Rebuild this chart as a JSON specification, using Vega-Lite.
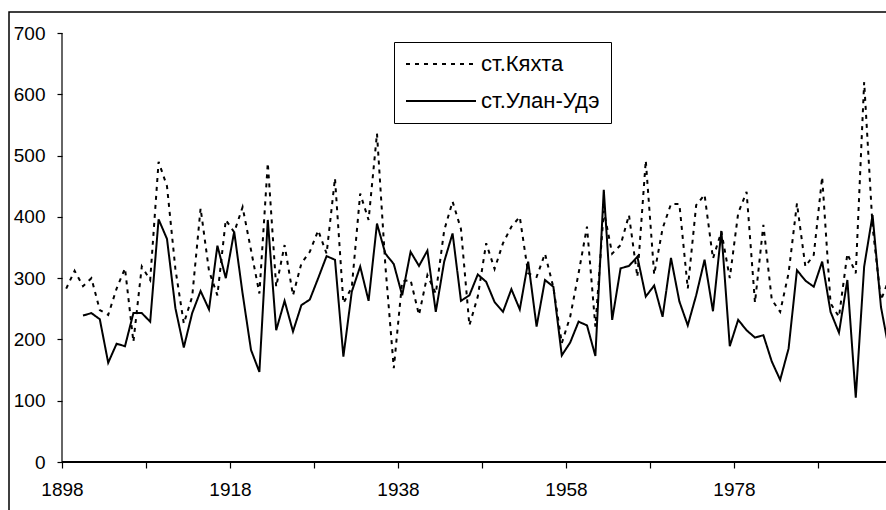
{
  "$schema": "https://vega.github.io/schema/vega-lite/v6.json",
  "autosize": {"type": "none"},
  "padding": {"left": 9, "top": 12, "right": 0, "bottom": 0},
  "width": 887,
  "height": 508,
  "background": "white",
  "config": {"view": {"stroke": "black", "strokeWidth": 1.5}, "font": "Liberation Sans"},
  "layer": [
    {
      "data": {"values": [{"a": 1}]},
      "mark": {"type": "rule", "color": "black", "strokeWidth": 1.2},
      "encoding": {
        "x": {"datum": 1897.5, "type": "quantitative"},
        "y": {"datum": 0, "type": "quantitative"},
        "y2": {"datum": 700}
      }
    },
    {
      "data": {"values": [{"a": 1}]},
      "mark": {"type": "rule", "color": "black", "strokeWidth": 2},
      "encoding": {
        "x": {"datum": 1897.5, "type": "quantitative"},
        "x2": {"datum": 1996.79},
        "y": {"datum": 0, "type": "quantitative"}
      }
    },
    {
      "data": {"values": [
        {"year":1898,"Кяхта":283,"Улан-Удэ":null},
        {"year":1899,"Кяхта":312,"Улан-Удэ":null},
        {"year":1900,"Кяхта":287,"Улан-Удэ":239},
        {"year":1901,"Кяхта":300,"Улан-Удэ":243},
        {"year":1902,"Кяхта":248,"Улан-Удэ":233},
        {"year":1903,"Кяхта":240,"Улан-Удэ":162},
        {"year":1904,"Кяхта":283,"Улан-Удэ":193},
        {"year":1905,"Кяхта":316,"Улан-Удэ":189},
        {"year":1906,"Кяхта":196,"Улан-Удэ":243},
        {"year":1907,"Кяхта":319,"Улан-Удэ":243},
        {"year":1908,"Кяхта":297,"Улан-Удэ":229},
        {"year":1909,"Кяхта":490,"Улан-Удэ":396},
        {"year":1910,"Кяхта":450,"Улан-Удэ":364},
        {"year":1911,"Кяхта":315,"Улан-Удэ":251},
        {"year":1912,"Кяхта":226,"Улан-Удэ":187},
        {"year":1913,"Кяхта":270,"Улан-Удэ":243},
        {"year":1914,"Кяхта":414,"Улан-Удэ":279},
        {"year":1915,"Кяхта":312,"Улан-Удэ":249},
        {"year":1916,"Кяхта":272,"Улан-Удэ":353},
        {"year":1917,"Кяхта":395,"Улан-Удэ":300},
        {"year":1918,"Кяхта":375,"Улан-Удэ":376},
        {"year":1919,"Кяхта":416,"Улан-Удэ":275},
        {"year":1920,"Кяхта":346,"Улан-Удэ":183},
        {"year":1921,"Кяхта":275,"Улан-Удэ":147},
        {"year":1922,"Кяхта":488,"Улан-Удэ":395},
        {"year":1923,"Кяхта":286,"Улан-Удэ":215},
        {"year":1924,"Кяхта":354,"Улан-Удэ":263},
        {"year":1925,"Кяхта":272,"Улан-Удэ":213},
        {"year":1926,"Кяхта":324,"Улан-Удэ":256},
        {"year":1927,"Кяхта":343,"Улан-Удэ":265},
        {"year":1928,"Кяхта":378,"Улан-Удэ":300},
        {"year":1929,"Кяхта":340,"Улан-Удэ":336},
        {"year":1930,"Кяхта":463,"Улан-Удэ":330},
        {"year":1931,"Кяхта":259,"Улан-Удэ":172},
        {"year":1932,"Кяхта":285,"Улан-Удэ":278},
        {"year":1933,"Кяхта":438,"Улан-Удэ":319},
        {"year":1934,"Кяхта":395,"Улан-Удэ":263},
        {"year":1935,"Кяхта":536,"Улан-Удэ":389},
        {"year":1936,"Кяхта":320,"Улан-Удэ":340},
        {"year":1937,"Кяхта":153,"Улан-Удэ":323},
        {"year":1938,"Кяхта":295,"Улан-Удэ":272},
        {"year":1939,"Кяхта":297,"Улан-Удэ":343},
        {"year":1940,"Кяхта":240,"Улан-Удэ":320},
        {"year":1941,"Кяхта":305,"Улан-Удэ":345},
        {"year":1942,"Кяхта":275,"Улан-Удэ":245},
        {"year":1943,"Кяхта":378,"Улан-Удэ":327},
        {"year":1944,"Кяхта":425,"Улан-Удэ":373},
        {"year":1945,"Кяхта":380,"Улан-Удэ":263},
        {"year":1946,"Кяхта":223,"Улан-Удэ":272},
        {"year":1947,"Кяхта":270,"Улан-Удэ":306},
        {"year":1948,"Кяхта":357,"Улан-Удэ":294},
        {"year":1949,"Кяхта":315,"Улан-Удэ":261},
        {"year":1950,"Кяхта":357,"Улан-Удэ":245},
        {"year":1951,"Кяхта":384,"Улан-Удэ":282},
        {"year":1952,"Кяхта":400,"Улан-Удэ":249},
        {"year":1953,"Кяхта":308,"Улан-Удэ":327},
        {"year":1954,"Кяхта":302,"Улан-Удэ":221},
        {"year":1955,"Кяхта":340,"Улан-Удэ":297},
        {"year":1956,"Кяхта":285,"Улан-Удэ":286},
        {"year":1957,"Кяхта":194,"Улан-Удэ":174},
        {"year":1958,"Кяхта":237,"Улан-Удэ":195},
        {"year":1959,"Кяхта":308,"Улан-Удэ":229},
        {"year":1960,"Кяхта":384,"Улан-Удэ":223},
        {"year":1961,"Кяхта":221,"Улан-Удэ":173},
        {"year":1962,"Кяхта":410,"Улан-Удэ":444},
        {"year":1963,"Кяхта":340,"Улан-Удэ":232},
        {"year":1964,"Кяхта":354,"Улан-Удэ":316},
        {"year":1965,"Кяхта":403,"Улан-Удэ":320},
        {"year":1966,"Кяхта":302,"Улан-Удэ":335},
        {"year":1967,"Кяхта":492,"Улан-Удэ":270},
        {"year":1968,"Кяхта":306,"Улан-Удэ":288},
        {"year":1969,"Кяхта":381,"Улан-Удэ":237},
        {"year":1970,"Кяхта":421,"Улан-Удэ":333},
        {"year":1971,"Кяхта":421,"Улан-Удэ":262},
        {"year":1972,"Кяхта":283,"Улан-Удэ":223},
        {"year":1973,"Кяхта":419,"Улан-Удэ":272},
        {"year":1974,"Кяхта":436,"Улан-Удэ":330},
        {"year":1975,"Кяхта":332,"Улан-Удэ":246},
        {"year":1976,"Кяхта":376,"Улан-Удэ":377},
        {"year":1977,"Кяхта":300,"Улан-Удэ":189},
        {"year":1978,"Кяхта":406,"Улан-Удэ":232},
        {"year":1979,"Кяхта":441,"Улан-Удэ":215},
        {"year":1980,"Кяхта":260,"Улан-Удэ":203},
        {"year":1981,"Кяхта":387,"Улан-Удэ":207},
        {"year":1982,"Кяхта":265,"Улан-Удэ":164},
        {"year":1983,"Кяхта":245,"Улан-Удэ":134},
        {"year":1984,"Кяхта":308,"Улан-Удэ":185},
        {"year":1985,"Кяхта":422,"Улан-Удэ":313},
        {"year":1986,"Кяхта":319,"Улан-Удэ":296},
        {"year":1987,"Кяхта":338,"Улан-Удэ":286},
        {"year":1988,"Кяхта":465,"Улан-Удэ":327},
        {"year":1989,"Кяхта":259,"Улан-Удэ":245},
        {"year":1990,"Кяхта":237,"Улан-Удэ":211},
        {"year":1991,"Кяхта":340,"Улан-Удэ":297},
        {"year":1992,"Кяхта":308,"Улан-Удэ":105},
        {"year":1993,"Кяхта":620,"Улан-Удэ":319},
        {"year":1994,"Кяхта":384,"Улан-Удэ":403},
        {"year":1995,"Кяхта":264,"Улан-Удэ":253},
        {"year":1996,"Кяхта":300,"Улан-Удэ":180}
      ]},
      "transform": [{"fold": ["Кяхта", "Улан-Удэ"], "as": ["station", "value"]}],
      "mark": {"type": "line", "color": "black", "strokeWidth": 2},
      "encoding": {
        "x": {
          "field": "year", "type": "quantitative",
          "scale": {"domain": [1891.19, 1996.79], "nice": false, "zero": false},
          "axis": {
            "orient": "bottom", "offset": -58, "domain": false, "grid": false, "title": null,
            "values": [1897.5, 1907.5, 1917.5, 1927.5, 1937.5, 1947.5, 1957.5, 1967.5, 1977.5, 1987.5],
            "labelExpr": "(datum.value - 1897.5) % 20 == 0 ? format(datum.value + 0.5, 'd') : ''",
            "labelOverlap": false, "labelFlush": false, "labelDx": 4,
            "tickSize": 6, "tickColor": "black", "tickWidth": 1.2,
            "labelFontSize": 19, "labelColor": "black", "labelPadding": 12, "labelFont": "Liberation Sans"
          }
        },
        "y": {
          "field": "value", "type": "quantitative",
          "scale": {"domain": [-94.6, 734.3], "nice": false, "zero": false},
          "axis": {
            "orient": "left", "offset": -53, "domain": false, "grid": false, "title": null,
            "values": [0, 100, 200, 300, 400, 500, 600, 700],
            "tickSize": 5, "tickColor": "black", "tickWidth": 1.2,
            "labelFontSize": 19, "labelColor": "black", "labelPadding": 12, "labelFont": "Liberation Sans"
          }
        },
        "strokeDash": {
          "field": "station", "type": "nominal",
          "scale": {"domain": ["Кяхта", "Улан-Удэ"], "range": [[4, 5], [1, 0]]},
          "legend": {
            "title": null, "orient": "none", "legendX": 385, "legendY": 30,
            "labelExpr": "'ст.' + datum.label",
            "symbolType": "stroke", "symbolSize": 4900, "symbolStrokeWidth": 2, "symbolStrokeColor": "black",
            "labelFontSize": 22, "labelColor": "black", "labelFont": "Liberation Sans", "labelOffset": 4,
            "clipHeight": 22,
            "strokeColor": "black", "fillColor": "white", "padding": 11, "rowPadding": 15
          }
        }
      }
    }
  ]
}
